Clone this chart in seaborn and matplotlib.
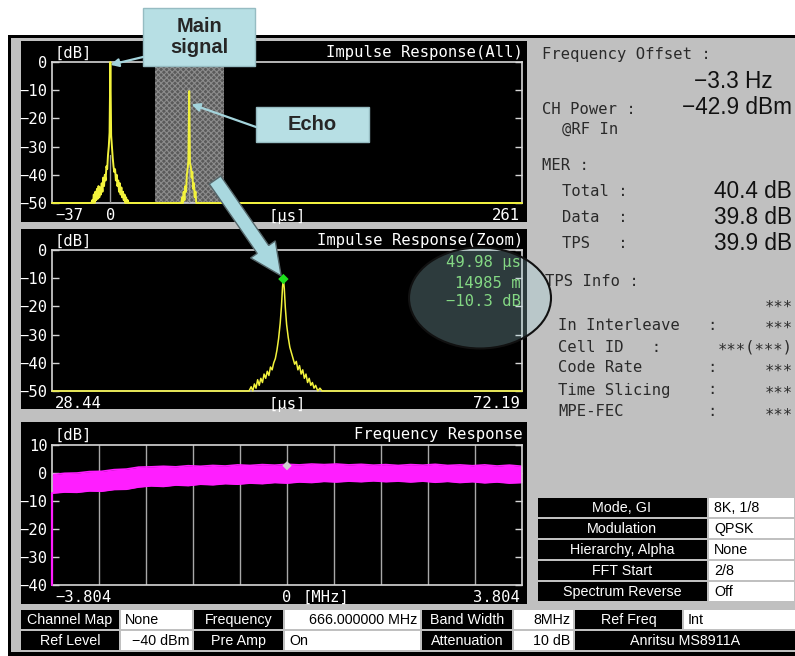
import numpy as np
import pandas as pd
import matplotlib
matplotlib.use("Agg")
import matplotlib.pyplot as plt
from matplotlib.patches import Rectangle, Ellipse, FancyArrow
import seaborn as sns

# ---------------------------------------------------------------
# Measurement values (DVB-T analyser, delay profile screen)
# ---------------------------------------------------------------
ir_all_span = [-37, 261]          # us
ir_zoom_span = [28.44, 72.19]     # us
ir_db_ticks = [0, -10, -20, -30, -40, -50]

# main path, offsets from main_delay in us, level in dB
main_delay = 0.0
main_offset = [-12.0, -11.5, -11.0, -10.5, -10.0, -9.5, -9.0, -8.5, -8.0, -7.5,
               -7.0, -6.5, -6.0, -5.5, -5.0, -4.5, -4.0, -3.5, -3.0, -2.5,
               -2.0, -1.5, -1.0, -0.5, 0.0, 0.5, 1.0, 1.5, 2.0, 2.5,
               3.0, 3.5, 4.0, 4.5, 5.0, 5.5, 6.0, 6.5, 7.0, 7.5,
               8.0, 8.5, 9.0, 9.5, 10.0, 10.5, 11.0, 11.5, 12.0]
main_level = [-50, -49, -50, -47, -50, -46, -49, -45, -48.5, -44,
              -48, -44.5, -47, -43, -46, -41, -44, -40, -42, -37,
              -38, -33, -30, -25, 0, -26, -30, -34, -37, -39,
              -38, -42, -40, -44, -42, -46, -43, -47, -44.5, -48,
              -46, -49, -47, -50, -48, -50, -49, -50, -50]

# echo path
echo_delay = 49.98
echo_distance_m = 14985
echo_level = -10.3
echo_offset_all = [-5.0, -4.5, -4.0, -3.5, -3.0, -2.5, -2.0, -1.5, -1.0, -0.5, 0.0,
                   0.5, 1.0, 1.5, 2.0, 2.5, 3.0, 3.5, 4.0, 4.5, 5.0]
echo_level_all = [-50, -48, -50, -46, -49, -44, -46, -40, -38, -35, -10.3,
                  -36, -37, -41, -39, -45, -43, -48, -46, -50, -50]
echo_offset_zoom = [-3.5, -3.2, -3.0, -2.85, -2.7, -2.55, -2.4, -2.25, -2.1, -1.95,
                    -1.8, -1.65, -1.5, -1.35, -1.2, -1.05, -0.9, -0.75, -0.6, -0.45,
                    -0.3, -0.18, -0.08, 0.0, 0.08, 0.18, 0.3, 0.45, 0.6, 0.75,
                    0.9, 1.05, 1.2, 1.35, 1.5, 1.65, 1.8, 1.95, 2.1, 2.25,
                    2.4, 2.55, 2.7, 2.85, 3.0, 3.2, 3.4, 3.6, 3.8]
echo_level_zoom = [-50, -50, -48.5, -50, -47.5, -49, -46, -48, -45.5, -47,
                   -44, -45.5, -43, -44.5, -41.5, -42.5, -40, -38.5, -35.5, -31.5,
                   -26, -20, -13, -10.3, -13.5, -20.5, -26.5, -31, -34.5, -36.5,
                   -38.5, -40.5, -39.5, -42.5, -41, -44, -42.5, -45.5, -44, -47,
                   -45.5, -48, -47, -49, -48, -50, -49, -50, -50]

# frequency response (MHz, dB) - spread of the carrier levels
fr_span = [-3.804, 3.804]
fr_db_ticks = [10, 0, -10, -20, -30, -40]
fr_freq = [-3.804, -3.6, -3.4, -3.2, -3.0, -2.8, -2.6, -2.4, -2.2, -2.0,
           -1.8, -1.6, -1.4, -1.2, -1.0, -0.8, -0.6, -0.4, -0.2, 0.0,
           0.2, 0.4, 0.6, 0.8, 1.0, 1.2, 1.4, 1.6, 1.8, 2.0,
           2.2, 2.4, 2.6, 2.8, 3.0, 3.2, 3.4, 3.6, 3.804]
fr_upper = [-0.6, -0.1, 0.0, 0.5, 0.6, 1.2, 1.4, 2.1, 2.2, 2.4,
            2.2, 2.6, 2.4, 2.7, 2.5, 2.9, 2.7, 3.0, 2.8, 3.1,
            2.9, 3.2, 3.0, 3.2, 2.9, 3.1, 2.8, 3.0, 2.7, 3.0,
            2.8, 3.1, 2.7, 2.9, 2.6, 2.9, 2.5, 2.8, 2.4]
fr_lower = [-7.2, -6.8, -6.9, -6.4, -6.5, -5.9, -5.8, -5.0, -4.6, -4.8,
            -4.3, -4.5, -4.0, -4.2, -3.8, -4.0, -3.6, -3.8, -3.4, -3.6,
            -3.2, -3.4, -3.0, -3.2, -2.9, -3.1, -2.8, -3.1, -2.9, -3.2,
            -2.9, -3.3, -3.0, -3.4, -3.1, -3.5, -3.2, -3.6, -3.4]
fr_marker_freq = 0.000
fr_marker_level = 2.6

# numeric results
freq_offset_hz = -3.3
ch_power_dbm = -42.9
mer_labels = ["Total :", "Data  :", "TPS   :"]
mer_values = [40.4, 39.8, 39.9]

tps_info_names = ["In Interleave", "Cell ID   :", "Code Rate", "Time Slicing", "MPE-FEC"]
tps_info_values = ["∗∗∗", "∗∗∗(∗∗∗)", "∗∗∗", "∗∗∗", "∗∗∗"]

tps_params = ["Mode, GI", "Modulation", "Hierarchy, Alpha", "FFT Start", "Spectrum Reverse"]
tps_values = ["8K, 1/8", "QPSK", "None", "2/8", "Off"]

status_row1 = [("Channel Map", "None"), ("Frequency", "666.000000 MHz"),
               ("Band Width", "8MHz"), ("Ref Freq", "Int")]
status_row2 = [("Ref Level", "−40 dBm"), ("Pre Amp", "On"),
               ("Attenuation", "10 dB"), ("Anritsu MS8911A", None)]

# ---------------------------------------------------------------
# Styling
# ---------------------------------------------------------------
sns.set_theme(style="dark")
MONO = ["DejaVu Sans Mono", "DejaVu Sans"]
SANS = ["Liberation Sans", "DejaVu Sans"]
plt.rcParams["font.family"] = MONO
plt.rcParams["hatch.linewidth"] = 0.8

W, H = 795, 656
GRAY = "#c0c0c0"
TRACE = "#f2f23c"
FRAME = "#d6d6d6"
INK = "#2a2a2a"
CALLOUT = "#b7dfe4"
MSIZE = 11.2

fig = plt.figure(figsize=(W / 100, H / 100), dpi=100)
fig.patch.set_facecolor("white")

bg = fig.add_axes([0, 0, 1, 1])
bg.set_xlim(0, W)
bg.set_ylim(H, 0)
bg.axis("off")


def rect(ax, x0, y0, x1, y1, **kw):
    ax.add_patch(Rectangle((x0, y0), x1 - x0, y1 - y0, **kw))


def px_axes(x0, y0, x1, y1):
    return fig.add_axes([x0 / W, 1 - y1 / H, (x1 - x0) / W, (y1 - y0) / H])


# instrument frame and panels
rect(bg, 8, 35, W, H, facecolor="black", lw=0)
rect(bg, 11, 38, W, 652, facecolor=GRAY, lw=0)
panel_boxes = [(21, 41, 527, 222), (21, 229, 527, 409), (21, 422, 527, 604)]
for b in panel_boxes:
    rect(bg, *b, facecolor="black", lw=0)


def scope_axes(box, ylim, yticks):
    ax = px_axes(*box)
    ax.set_facecolor("black")
    ax.grid(False)
    for s in ax.spines.values():
        s.set_color(FRAME)
        s.set_linewidth(1.2)
        s.set_visible(True)
    ax.set_ylim(*ylim)
    ax.set_yticks(yticks)
    ax.set_yticklabels([str(t).replace("-", "−") for t in yticks])
    ax.tick_params(axis="y", direction="in", length=5, width=1, color=FRAME,
                   labelcolor="white", labelsize=MSIZE, pad=3, left=True, right=True)
    ax.tick_params(axis="x", length=0, labelbottom=False)
    return ax


# ---------------- Impulse response (all) ----------------
ax1 = scope_axes((52, 62, 522, 203), (ir_db_ticks[-1], ir_db_ticks[0]), ir_db_ticks)
ax1.axvspan(ir_zoom_span[0], ir_zoom_span[1], facecolor="#5a5a5a",
            edgecolor="#8c8c8c", hatch="xxxxxx", lw=0, zorder=1)
all_delay = ([ir_all_span[0]] + [main_delay + o for o in main_offset]
             + [echo_delay + o for o in echo_offset_all] + [ir_all_span[1]])
all_level = [ir_db_ticks[-1]] + main_level + echo_level_all + [ir_db_ticks[-1]]
sns.lineplot(x=all_delay, y=all_level, ax=ax1, color=TRACE, linewidth=1.4,
             estimator=None, sort=False, zorder=3, clip_on=False)
# delay markers at the two path positions
for d, lv in ((main_delay, main_level[main_offset.index(-1.5)]),
              (echo_delay, echo_level_all[echo_offset_all.index(-1.0)])):
    ax1.plot([d, d], [ir_db_ticks[-1], lv], color="#9a9a9a", lw=1.0, zorder=4)
ax1.set_xlim(*ir_all_span)
ax1.set_ylim(ir_db_ticks[-1], ir_db_ticks[0])
ax1.set_xlabel("")
ax1.set_ylabel("")

# ---------------- Impulse response (zoom) ----------------
ax2 = scope_axes((52, 250, 522, 391), (ir_db_ticks[-1], ir_db_ticks[0]), ir_db_ticks)
zoom_delay = [ir_zoom_span[0]] + [echo_delay + o for o in echo_offset_zoom] + [ir_zoom_span[1]]
zoom_level = [ir_db_ticks[-1]] + echo_level_zoom + [ir_db_ticks[-1]]
sns.lineplot(x=zoom_delay, y=zoom_level, ax=ax2, color=TRACE, linewidth=1.1,
             estimator=None, sort=False, zorder=3, clip_on=False)
sns.scatterplot(x=[echo_delay], y=[echo_level], ax=ax2, color="#1ee01e",
                marker="D", s=28, edgecolor="none", zorder=5, clip_on=False)
ax2.set_xlim(*ir_zoom_span)
ax2.set_ylim(ir_db_ticks[-1], ir_db_ticks[0])
ax2.set_xlabel("")
ax2.set_ylabel("")

# ---------------- Frequency response ----------------
ax3 = scope_axes((52, 445, 522, 585), (fr_db_ticks[-1], fr_db_ticks[0]), fr_db_ticks)
grid_x = [fr_span[0] + (fr_span[1] - fr_span[0]) * i / 10 for i in range(1, 10)]
for gx in grid_x:
    ax3.axvline(gx, color="#a8a8a8", lw=1.0, zorder=1)
ax3.fill_between(fr_freq, fr_lower, fr_upper, color="#ff1eff", lw=0, zorder=2)
sns.lineplot(x=fr_freq, y=fr_upper, ax=ax3, color="#ff1eff", linewidth=1.2,
             estimator=None, sort=False, zorder=2)
sns.lineplot(x=fr_freq, y=fr_lower, ax=ax3, color="#ff1eff", linewidth=1.2,
             estimator=None, sort=False, zorder=2)
ax3.plot([fr_freq[0], fr_freq[0]], [fr_db_ticks[-1], fr_lower[0]],
         color="#ff1eff", lw=1.6, zorder=3, clip_on=False)
sns.scatterplot(x=[fr_marker_freq], y=[fr_marker_level], ax=ax3, color="#cfcfcf",
                marker="D", s=22, edgecolor="none", zorder=5)
ax3.set_xlim(*fr_span)
ax3.set_ylim(fr_db_ticks[-1], fr_db_ticks[0])
ax3.set_xlabel("")
ax3.set_ylabel("")

# panel headings and scale labels (pixel coordinates)
heads = [(53, "Impulse Response(All)"), (241, "Impulse Response(Zoom)"), (435, "Frequency Response")]
for y, title in heads:
    bg.text(55, y, "[dB]", color="white", fontsize=MSIZE, ha="left", va="center")
    bg.text(523, y, title, color="white", fontsize=MSIZE, ha="right", va="center")

low_labels = [
    (216, "−37", "0", "[µs]", "261"),
    (404, "28.44", None, "[µs]", "72.19"),
    (597, "−3.804", "0", "[MHz]", "3.804"),
]
for (y, left, mid, unit, right), ax in zip(low_labels, (ax1, ax2, ax3)):
    bg.text(55, y, left, color="white", fontsize=MSIZE, ha="left", va="center")
    bg.text(520, y, right, color="white", fontsize=MSIZE, ha="right", va="center")
    if ax is ax3:
        x0 = ax.transData.transform((fr_marker_freq, 0))[0]
        bg.text(x0, y, mid, color="white", fontsize=MSIZE, ha="center", va="center")
        bg.text(x0 + 16, y, unit, color="white", fontsize=MSIZE, ha="left", va="center")
    else:
        bg.text(287, y, unit, color="white", fontsize=MSIZE, ha="center", va="center")
        if mid is not None:
            x0 = ax.transData.transform((main_delay, 0))[0]
            bg.text(x0, y, mid, color="white", fontsize=MSIZE, ha="center", va="center")

# frequency-response marker readout
fr_read = [f"{fr_marker_freq:.3f} MHz", "∗∗∗∗∗∗∗ m", f"{fr_marker_level:.1f} dB"]
for y, s in zip([536, 557, 577], fr_read):
    bg.text(520, y, s, color="#d2d2d2", fontsize=MSIZE, ha="right", va="center")

# ---------------- right-hand results ----------------
VSIZE = 16.3
bg.text(542, 55, "Frequency Offset :", color=INK, fontsize=MSIZE, va="center")
bg.text(773, 82, f"{freq_offset_hz:.1f} Hz".replace("-", "−"), color="#111111",
        fontsize=VSIZE, family=SANS, ha="right", va="center")
bg.text(542, 109, "CH Power :", color=INK, fontsize=MSIZE, va="center")
bg.text(792, 107, f"{ch_power_dbm:.1f} dBm".replace("-", "−"), color="#111111",
        fontsize=VSIZE, family=SANS, ha="right", va="center")
bg.text(562, 129, "@RF In", color=INK, fontsize=MSIZE, va="center")
bg.text(542, 166, "MER :", color=INK, fontsize=MSIZE, va="center")
for y, lab, val in zip([191, 217, 243], mer_labels, mer_values):
    bg.text(562, y, lab, color=INK, fontsize=MSIZE, va="center")
    bg.text(792, y, f"{val:.1f} dB", color="#111111", fontsize=VSIZE,
            family=SANS, ha="right", va="center")

bg.text(545, 282, "TPS Info :", color=INK, fontsize=MSIZE, va="center")
bg.text(793, 304, "∗∗∗", color=INK, fontsize=MSIZE, ha="right", va="center")
for y, name, val in zip([325, 347, 368, 390, 412], tps_info_names, tps_info_values):
    bg.text(558, y, name, color=INK, fontsize=MSIZE, va="center")
    if not name.endswith(":"):
        bg.text(712, y, ":", color=INK, fontsize=MSIZE, ha="center", va="center")
    bg.text(793, y, val, color=INK, fontsize=MSIZE, ha="right", va="center")

# TPS parameter table
row_tops = [497, 518, 539, 560, 581]
for top, p, v in zip(row_tops, tps_params, tps_values):
    rect(bg, 538, top + 1, 707, top + 20, facecolor="black", lw=0)
    rect(bg, 709, top + 1, 794, top + 20, facecolor="white", lw=0)
    bg.text(622, top + 11, p, color="white", fontsize=10.3, family=SANS,
            ha="center", va="center")
    bg.text(714, top + 11, v, color="black", fontsize=10.3, family=SANS,
            ha="left", va="center")

# status bar
label_cells = [(21, 119), (194, 283), (422, 512), (575, 682)]
value_cells = [(121, 192), (285, 420), (514, 573), (684, 795)]
value_align = [["left", "right", "right", "left"], ["right", "left", "right", None]]
for r, (row, (y0, y1)) in enumerate(zip([status_row1, status_row2], [(610, 629), (631, 650)])):
    for c, (lab, val) in enumerate(row):
        lx0, lx1 = label_cells[c]
        if val is None:
            lx1 = W
        rect(bg, lx0, y0, lx1, y1, facecolor="black", lw=0)
        bg.text((lx0 + lx1) / 2, (y0 + y1) / 2 + 0.5, lab, color="white",
                fontsize=10.3, family=SANS, ha="center", va="center")
        if val is not None:
            vx0, vx1 = value_cells[c]
            rect(bg, vx0, y0, vx1, y1, facecolor="white", lw=0)
            ha = value_align[r][c]
            tx = vx0 + 4 if ha == "left" else vx1 - 3
            bg.text(tx, (y0 + y1) / 2 + 0.5, val, color="black", fontsize=10.3,
                    family=SANS, ha=ha, va="center")

# ---------------- call-outs ----------------
ov = fig.add_axes([0, 0, 1, 1], zorder=10)
ov.set_xlim(0, W)
ov.set_ylim(H, 0)
ov.axis("off")
ov.patch.set_alpha(0)


def to_px(ax, x, y):
    dx, dy = ax.transData.transform((x, y))
    return dx, H - dy


ov.add_patch(Ellipse((480, 298), 142, 101, facecolor="#a8dce4", alpha=0.27,
                     edgecolor="none", zorder=1))
ov.add_patch(Ellipse((480, 298), 142, 101, facecolor="none", edgecolor="#111111",
                     lw=1.5, zorder=2))

# echo readout over the highlight
read2 = [f"{echo_delay:.2f} µs", f"{echo_distance_m} m", f"{echo_level:.1f} dB".replace("-", "−")]
for y, s in zip([263, 283, 302], read2):
    ov.text(521, y, s, color="#84d884", fontsize=MSIZE, ha="right", va="center", zorder=3)

# block arrow from the full view to the zoomed echo
tip = to_px(ax2, echo_delay, echo_level)
tail = (215, 180)
vx, vy = tip[0] - tail[0], tip[1] - tail[1]
L = np.hypot(vx, vy)
ux, uy = vx / L, vy / L
ov.add_patch(FancyArrow(tail[0], tail[1], vx - 4 * ux, vy - 4 * uy, width=14,
                        head_width=30, head_length=32, length_includes_head=True,
                        facecolor="#a9d8df", edgecolor="#55666a", lw=1.0, zorder=4))

# labelled boxes
rect(ov, 143, 8, 255, 66, facecolor=CALLOUT, edgecolor="#96bcc2", lw=1, zorder=5)
ov.text(199, 37, "Main\nsignal", fontsize=14.5, fontweight="bold", family=SANS,
        ha="center", va="center", linespacing=1.15, zorder=6)
rect(ov, 256, 107, 369, 142, facecolor=CALLOUT, edgecolor="#96bcc2", lw=1, zorder=5)
ov.text(312, 124.5, "Echo", fontsize=14.5, fontweight="bold", family=SANS,
        ha="center", va="center", zorder=6)

ov.annotate("", xy=to_px(ax1, main_delay, -1), xytext=(143, 57),
            arrowprops=dict(arrowstyle="-|>", color="#a4d4dc", lw=1.6,
                            mutation_scale=12, shrinkA=0, shrinkB=0), zorder=6)
ov.annotate("", xy=to_px(ax1, echo_delay + 1.5, -15), xytext=(256, 127),
            arrowprops=dict(arrowstyle="-|>", color="#a4d4dc", lw=1.6,
                            mutation_scale=12, shrinkA=0, shrinkB=0), zorder=6)

fig.savefig("out.png", dpi=100, facecolor="white")
